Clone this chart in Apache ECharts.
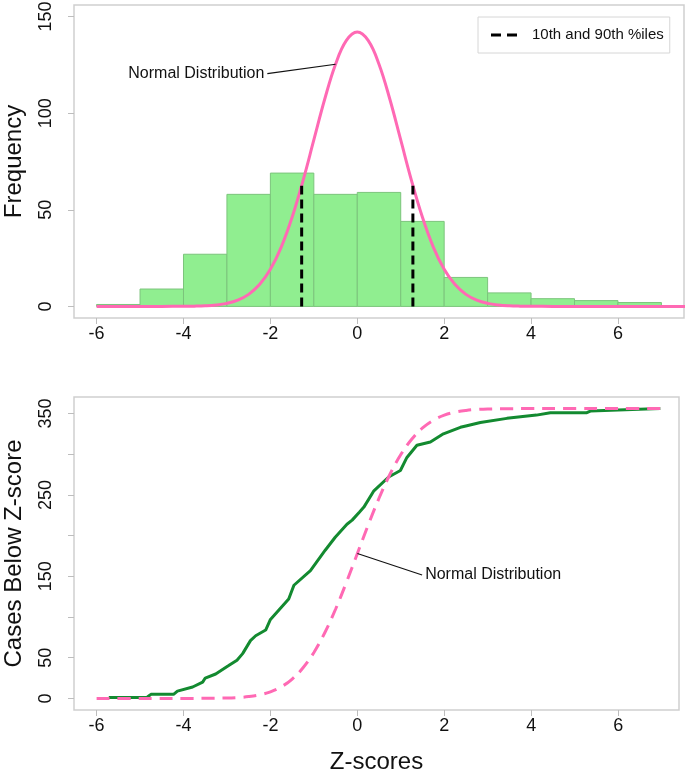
<!DOCTYPE html>
<html>
<head>
<meta charset="utf-8">
<script src="https://cdn.jsdelivr.net/npm/echarts@6/dist/echarts.min.js"></script>
<style>html,body{margin:0;padding:0;background:#fff}#c{width:685px;height:774px}</style>
</head>
<body>
<div id="c"></div>
<script>
// ---------- data ----------
const binStart = [-6, -5, -4, -3, -2, -1, 0, 1, 2, 3, 4, 5, 6];
const binWidth = 1;
const binCount = [1, 9, 27, 58, 69, 58, 59, 44, 15, 7, 4, 3, 2];

const normalX = [-6, -5, -4.5, -4, -3.75, -3.5, -3.25, -3, -2.75, -2.5, -2.25, -2, -1.75, -1.5, -1.25, -1, -0.75, -0.5, -0.25, 0,
  0.25, 0.5, 0.75, 1, 1.25, 1.5, 1.75, 2, 2.25, 2.5, 2.75, 3, 3.25, 3.5, 3.75, 4, 4.5, 5, 6, 7, 7.6];
const normalFreq = [0, 0, 0.01, 0.05, 0.13, 0.31, 0.72, 1.58, 3.24, 6.24, 11.3, 19.22, 30.71, 46.11, 65.02, 86.14, 107.2, 125.34, 137.65, 142.02,
  137.65, 125.34, 107.2, 86.14, 65.02, 46.11, 30.71, 19.22, 11.3, 6.24, 3.24, 1.58, 0.72, 0.31, 0.13, 0.05, 0.01, 0, 0, 0, 0];

const pctX = [-1.28, 1.28];
const pctTop = [62.5, 62.5];

const ecdfX = [-5.72, -4.85, -4.8, -4.75, -4.23, -4.14, -3.79, -3.56, -3.5, -3.26, -2.97, -2.77, -2.64, -2.46, -2.34, -2.11, -2.0,
  -1.58, -1.46, -1.08, -0.74, -0.51, -0.24, -0.12, 0.05, 0.15, 0.38, 0.72, 0.99, 1.14, 1.37, 1.68, 1.98, 2.37, 2.52, 2.83,
  3.44, 4.12, 4.44, 5.28, 5.36, 6.97];
const ecdfY = [1, 1, 3, 5, 5, 9, 14, 20, 25, 30, 40, 47, 55, 71, 77, 84, 97,
  122, 139, 157, 182, 198, 214, 219, 229, 235, 255, 272, 280, 296, 311, 315, 325, 333, 335, 339,
  344, 348, 351, 351, 353, 356];

const cdfX = [-6, -5, -4, -3.5, -3, -2.75, -2.5, -2.25, -2, -1.75, -1.5, -1.25, -1, -0.75, -0.5, -0.25, 0,
  0.25, 0.5, 0.75, 1, 1.25, 1.5, 1.75, 2, 2.25, 2.5, 2.75, 3, 3.5, 4, 5, 6, 7];
const cdfY = [0, 0, 0, 0.08, 0.48, 1.06, 2.21, 4.35, 8.1, 14.26, 23.78, 37.61, 56.48, 80.68, 109.84, 142.86, 178,
  213.14, 246.16, 275.32, 299.52, 318.39, 332.22, 341.74, 347.9, 351.65, 353.79, 354.94, 355.52, 355.92, 356, 356, 356, 356];

const xTicks = [-6, -4, -2, 0, 2, 4, 6];
const yTicksTop = [0, 50, 100, 150];
const yTicksBot = [0, 50, 100, 150, 200, 250, 300, 350];
const yLabelsBot = [0, 50, 150, 250, 350];

// annotations (data coords)
const annTop = { from: [-2.07, 120.5], to: [-0.5, 125.34] };
const annBot = { from: [1.49, 151.6], to: [0, 178] };

// ---------- chart ----------
const FONT = 'Liberation Sans, Arial, sans-serif';
const GRAYLINE = '#cfcfcf';
const PINK = '#FF69B4';
const chart = echarts.init(document.getElementById('c'), null, { renderer: 'canvas' });

function xAxisCfg(gi, max, name) {
  return {
    type: 'value', gridIndex: gi, min: -6.52, max: max,
    splitLine: { show: false },
    axisLine: { show: false, onZero: false },
    axisTick: { show: true, length: 6, lineStyle: { color: '#bdbdbd', width: 1 }, customValues: xTicks },
    axisLabel: { customValues: xTicks, fontSize: 18, color: '#111', margin: 7, fontFamily: FONT },
    name: name || '', nameLocation: 'middle', nameGap: 40,
    nameTextStyle: { fontSize: 24, color: '#111', fontFamily: FONT }
  };
}
function yAxisCfg(gi, min, max, ticks, labels, name, gap) {
  return {
    type: 'value', gridIndex: gi, min: min, max: max,
    splitLine: { show: false },
    axisLine: { show: false, onZero: false },
    axisTick: { show: true, length: 6, lineStyle: { color: '#bdbdbd', width: 1 }, customValues: ticks },
    axisLabel: { customValues: labels, rotate: 90, fontSize: 18, color: '#111', margin: 19, fontFamily: FONT },
    name: name, nameLocation: 'middle', nameRotate: 90, nameGap: gap,
    nameTextStyle: { fontSize: 24, color: '#111', fontFamily: FONT }
  };
}

const histData = binStart.map((s, i) => [s, s + binWidth, binCount[i]]);
const zip = (a, b) => a.map((v, i) => [v, b[i]]);
const annLabel = (pos) => ({ show: true, position: pos, distance: 3, formatter: 'Normal Distribution', fontSize: 16, color: '#111', fontFamily: FONT });

const option = {
  animation: false,
  backgroundColor: '#fff',
  textStyle: { fontFamily: FONT },
  grid: [
    { left: 74, top: 5, width: 610, height: 313, show: true, borderColor: GRAYLINE, borderWidth: 1.5, backgroundColor: 'transparent', containLabel: false, outerBoundsMode: 'none' },
    { left: 74, top: 397, width: 605, height: 313, show: true, borderColor: GRAYLINE, borderWidth: 1.5, backgroundColor: 'transparent', containLabel: false, outerBoundsMode: 'none' }
  ],
  xAxis: [xAxisCfg(0, 7.52), xAxisCfg(1, 7.40, 'Z-scores')],
  yAxis: [
    yAxisCfg(0, -6, 156, yTicksTop, yTicksTop, 'Frequency', 48),
    yAxisCfg(1, -14.24, 370.24, yTicksBot, yLabelsBot, 'Cases Below Z-score', 48)
  ],
  legend: {
    data: [{ name: '10th and 90th %iles', icon: 'path://M0,0H10V3H0Z M16,0H26V3H16Z' }],
    left: 478, top: 17,
    orient: 'vertical',
    padding: [9, 6, 9, 13],
    borderColor: '#d6d6d6', borderWidth: 1,
    itemWidth: 26, itemHeight: 3,
    textStyle: { fontSize: 15, color: '#111', fontFamily: FONT, padding: [0, 0, 0, 10], lineHeight: 18 },
    selectedMode: false
  },
  series: [
    {
      type: 'custom', xAxisIndex: 0, yAxisIndex: 0, silent: true,
      data: histData, encode: { x: [0, 1], y: 2 },
      renderItem: function (params, api) {
        const p0 = api.coord([api.value(0), api.value(2)]);
        const p1 = api.coord([api.value(1), 0]);
        return {
          type: 'rect',
          shape: { x: p0[0], y: p0[1], width: p1[0] - p0[0], height: p1[1] - p0[1] },
          style: { fill: '#90EE90', stroke: '#7cc47c', lineWidth: 1 }
        };
      },
      z: 1
    },
    {
      type: 'line', xAxisIndex: 0, yAxisIndex: 0, name: 'Normal',
      data: zip(normalX, normalFreq), smooth: 0.4, symbol: 'none',
      lineStyle: { color: PINK, width: 3 }, z: 3
    },
    ...pctX.map((x, i) => ({
      type: 'line', xAxisIndex: 0, yAxisIndex: 0, name: '10th and 90th %iles',
      data: [[x, 0], [x, pctTop[i]]], symbol: 'none',
      color: '#000',
      lineStyle: { color: '#000', width: 3, type: [9, 5] }, z: 4
    })),
    {
      type: 'line', xAxisIndex: 0, yAxisIndex: 0, silent: true,
      symbol: 'circle', symbolSize: 0.01, showSymbol: true,
      itemStyle: { color: 'transparent' },
      data: [
        { value: annTop.from, label: annLabel('left') },
        { value: annTop.to }
      ],
      lineStyle: { color: '#111', width: 1.2 }, z: 5
    },
    {
      type: 'line', xAxisIndex: 1, yAxisIndex: 1, name: 'ECDF',
      data: zip(ecdfX, ecdfY), symbol: 'none',
      lineStyle: { color: '#138a30', width: 3 }, z: 2
    },
    {
      type: 'line', xAxisIndex: 1, yAxisIndex: 1, name: 'NormalCDF',
      data: zip(cdfX, cdfY), smooth: 0.4, symbol: 'none',
      lineStyle: { color: PINK, width: 3, type: [13, 8] }, z: 3
    },
    {
      type: 'line', xAxisIndex: 1, yAxisIndex: 1, silent: true,
      symbol: 'circle', symbolSize: 0.01, showSymbol: true,
      itemStyle: { color: 'transparent' },
      data: [
        { value: annBot.from, label: annLabel('right') },
        { value: annBot.to }
      ],
      lineStyle: { color: '#111', width: 1.2 }, z: 5
    }
  ]
};
chart.setOption(option);
</script>
</body>
</html>
